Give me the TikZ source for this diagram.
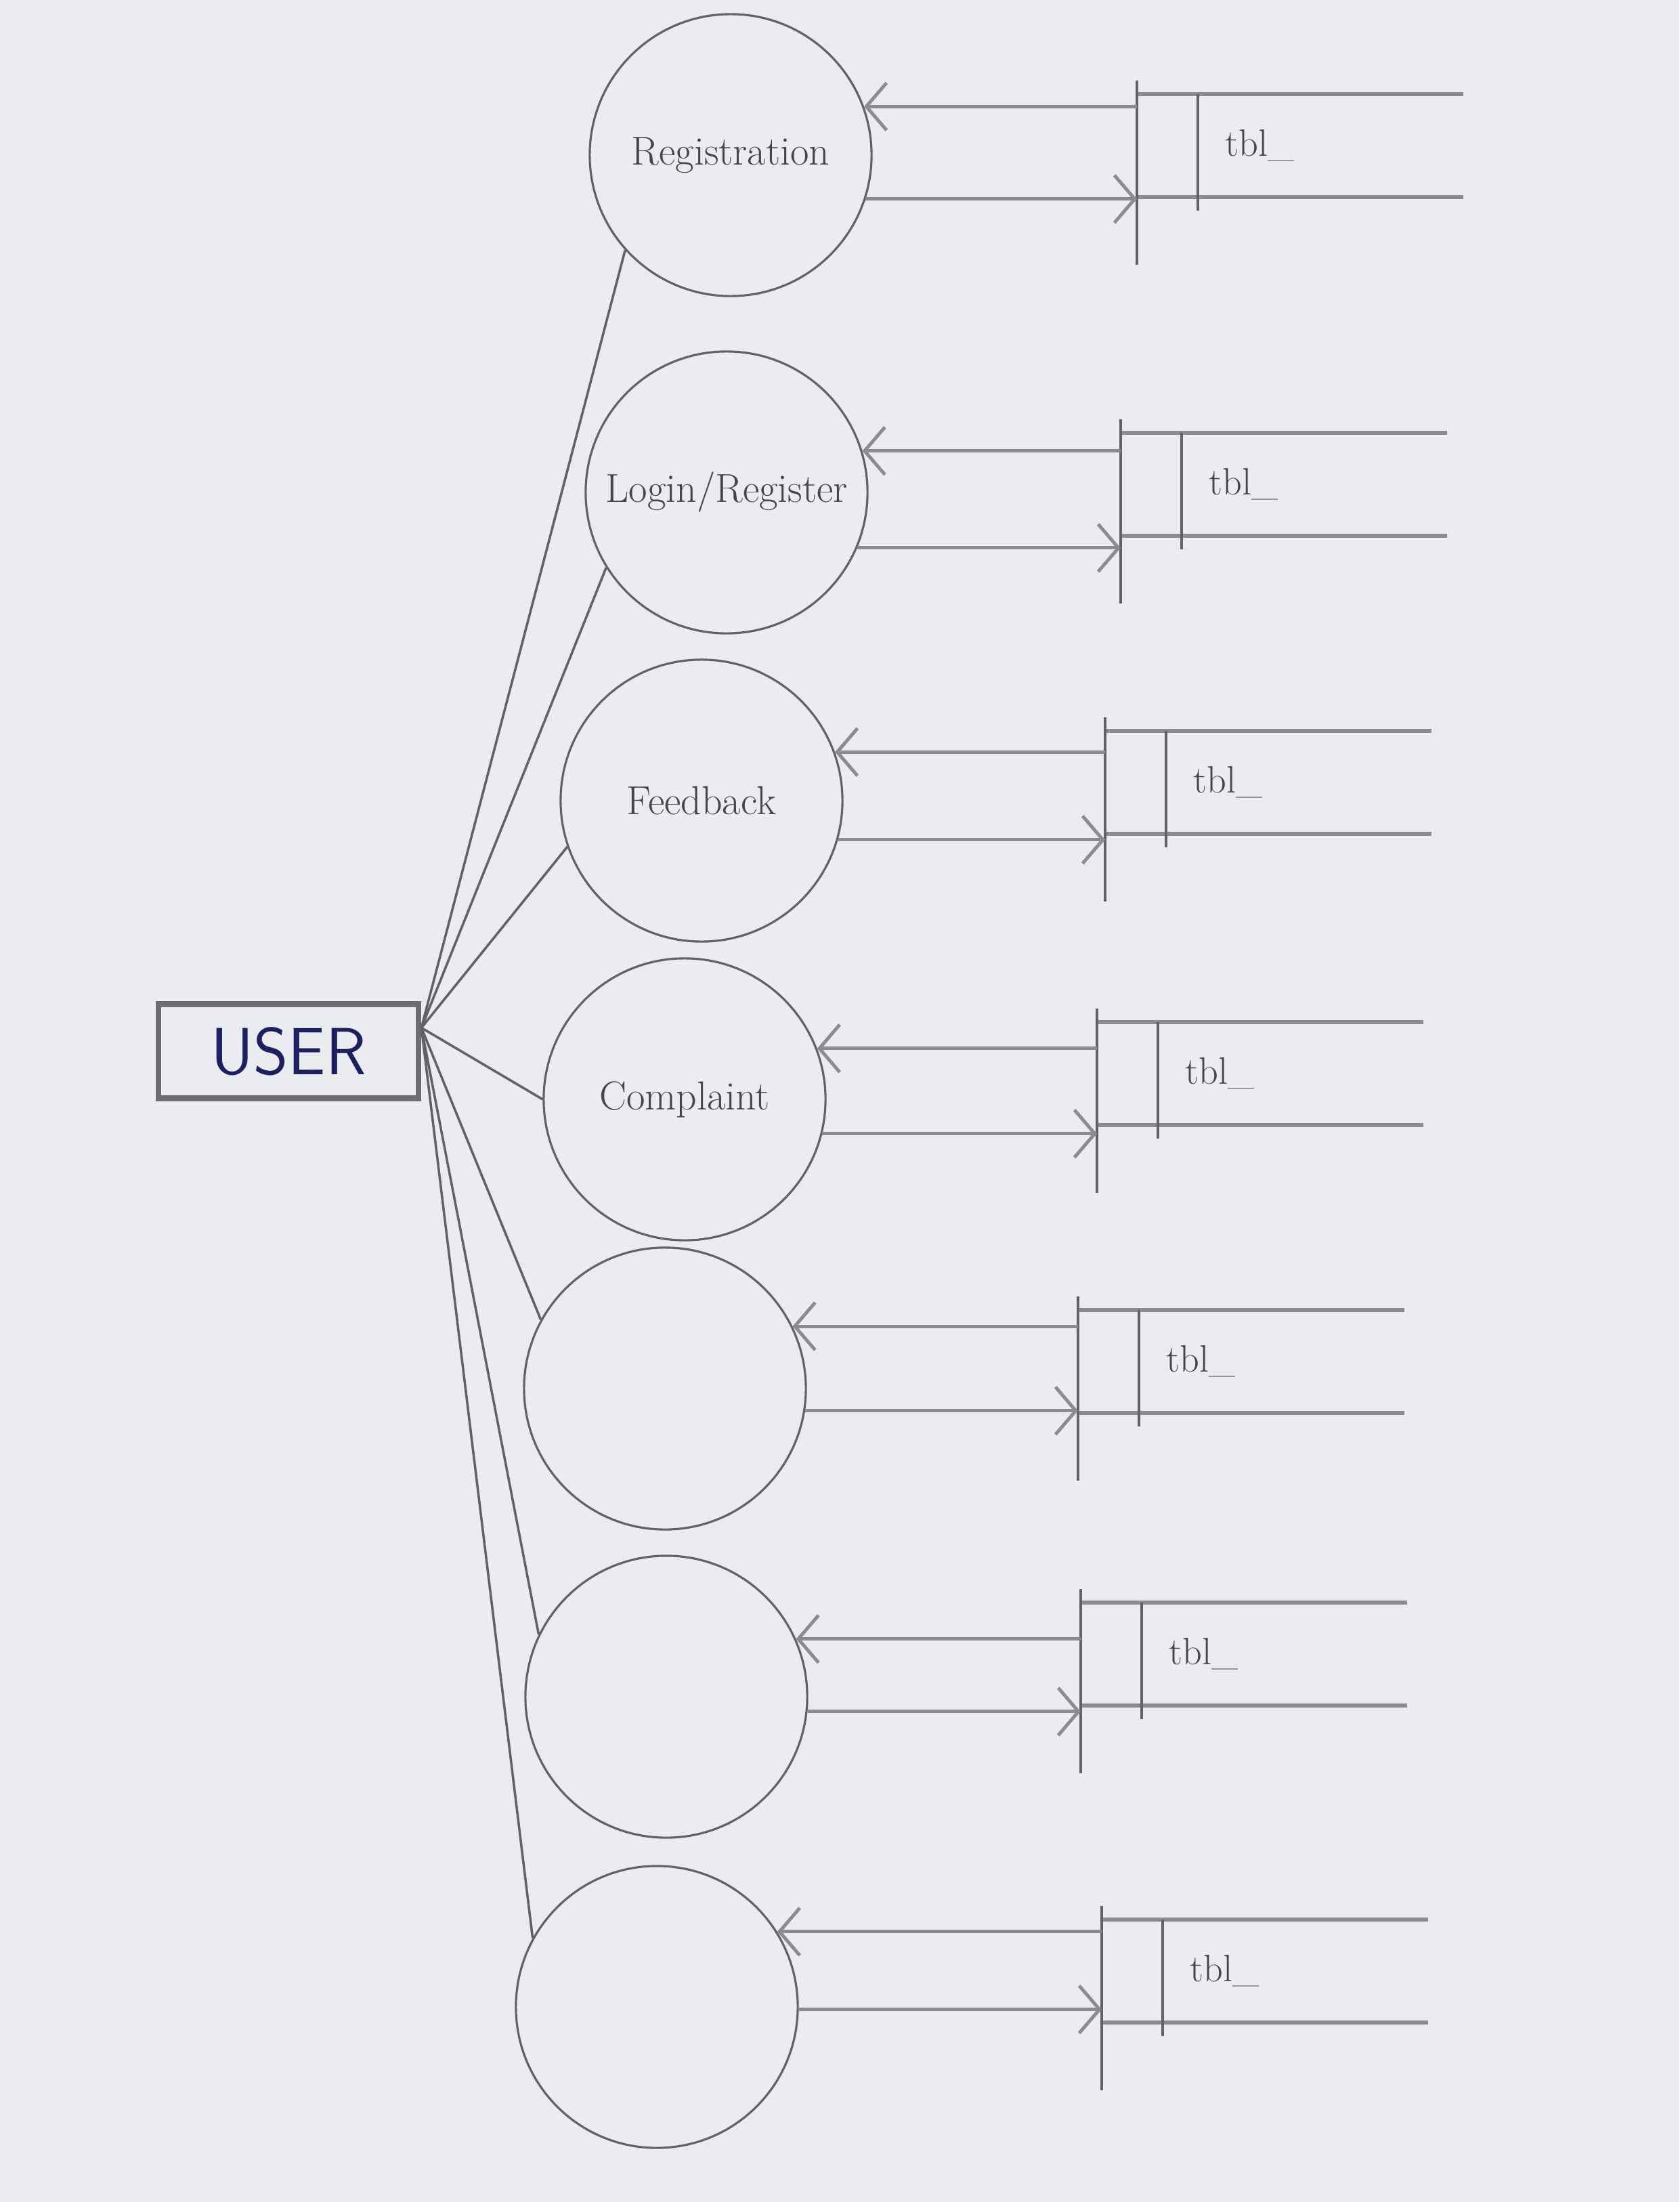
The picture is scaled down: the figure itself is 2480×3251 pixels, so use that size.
\documentclass[tikz,border=0pt]{standalone}
\usepackage{tikz}
\usetikzlibrary{arrows.meta}
\definecolor{paper}{RGB}{235,236,240}
\definecolor{pencil}{RGB}{98,98,102}
\definecolor{graphite}{RGB}{140,140,144}
\definecolor{lead}{RGB}{110,110,112}
\definecolor{ink}{RGB}{70,70,74}
\definecolor{biro}{RGB}{28,32,96}

\begin{document}
\begin{tikzpicture}[x=0.01cm,y=-0.01cm,
				process/.style={circle,draw=pencil,line width=0.9pt,minimum size=4.16cm,inner sep=0pt,text=ink,font=\fontsize{17}{20}\selectfont},
				actor/.style={rectangle,draw=lead,line width=2.4pt,minimum width=3.84cm,minimum height=1.39cm,text=biro,font=\sffamily\fontsize{28}{30}\selectfont},
				shelf/.style={draw=graphite,line width=1.8pt},
				store/.style={rectangle,anchor=west,minimum height=1.5cm,text width=2.2cm,inner xsep=1.3cm,inner ysep=0pt,align=left,text=ink,font=\fontsize{16}{19}\selectfont,
					append after command={
						(\tikzlastnode.north west) edge[shelf] (\tikzlastnode.north east)
						(\tikzlastnode.south west) edge[shelf] (\tikzlastnode.south east)
						([yshift=2mm]\tikzlastnode.north west) edge[shelf,line width=1pt,draw=pencil] ([yshift=-10mm]\tikzlastnode.south west)
						([xshift=9mm]\tikzlastnode.north west) edge[shelf,line width=1pt,draw=pencil] ([xshift=9mm,yshift=-2mm]\tikzlastnode.south west)}},
				link/.style={draw=pencil,line width=1pt},
				flow/.style={draw=graphite,line width=1.4pt,-{Straight Barb[length=3mm,width=7mm]}}]
				\fill[paper] (0,0) rectangle (2480,3251);

				\node (user) [actor] at (426,1552)  {USER};

				\node (p1) [process] at (1079,229)  {Registration};
				\node (p2) [process] at (1073,727)  {Login/Register};
				\node (p3) [process] at (1036,1182) {Feedback};
				\node (p4) [process] at (1011,1623) {Complaint};
				\node (p5) [process] at (982,2050)  {};
				\node (p6) [process] at (984,2505)  {};
				\node (p7) [process] at (970,2963)  {};

				\node (s1) [store] at (1679,215)  {tbl\_};
				\node (s2) [store] at (1655,715)  {tbl\_};
				\node (s3) [store] at (1632,1155) {tbl\_};
				\node (s4) [store] at (1620,1585) {tbl\_};
				\node (s5) [store] at (1592,2010) {tbl\_};
				\node (s6) [store] at (1596,2442) {tbl\_};
				\node (s7) [store] at (1627,2910) {tbl\_};

				\draw[link] (user.10) -- (p1.222);
				\draw[link] (user.10) -- (p2.212);
				\draw[link] (user.10) -- (p3.199);
				\draw[link] (user.10) -- (p4.180);
				\draw[link] (user.10) -- (p5.151);
				\draw[link] (user.10) -- (p6.154);
				\draw[link] (user.10) -- (p7.151);

				\draw[flow] (s1.west |- p1.20) -- (p1.20);
				\draw[flow] (p1.-18) -- (s1.west |- p1.-18);
				\draw[flow] (s2.west |- p2.17) -- (p2.17);
				\draw[flow] (p2.-23) -- (s2.west |- p2.-23);
				\draw[flow] (s3.west |- p3.20) -- (p3.20);
				\draw[flow] (p3.-16) -- (s3.west |- p3.-16);
				\draw[flow] (s4.west |- p4.21) -- (p4.21);
				\draw[flow] (p4.-14) -- (s4.west |- p4.-14);
				\draw[flow] (s5.west |- p5.26) -- (p5.26);
				\draw[flow] (p5.-9) -- (s5.west |- p5.-9);
				\draw[flow] (s6.west |- p6.24) -- (p6.24);
				\draw[flow] (p6.-6) -- (s6.west |- p6.-6);
				\draw[flow] (s7.west |- p7.32) -- (p7.32);
				\draw[flow] (p7.-1) -- (s7.west |- p7.-1);
			\end{tikzpicture}
\end{document}
